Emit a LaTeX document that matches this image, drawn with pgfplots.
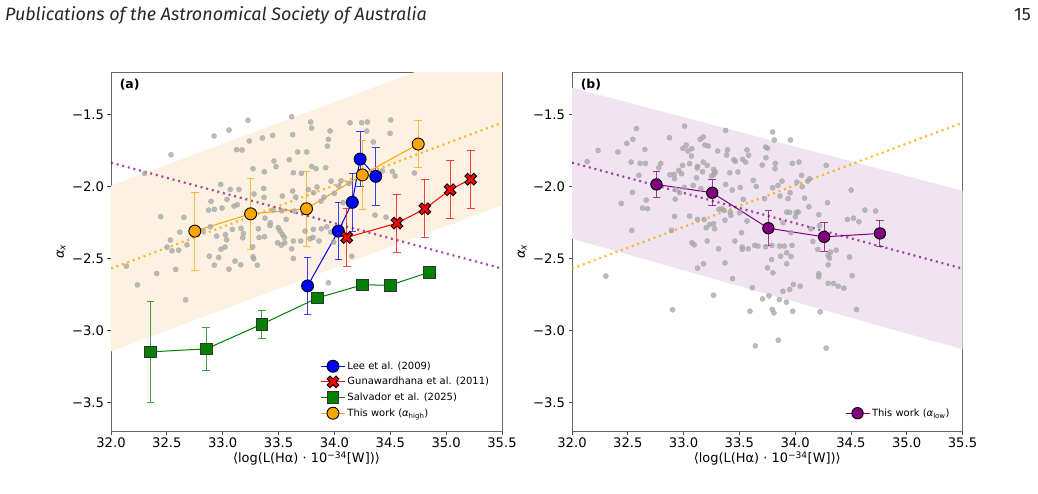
\documentclass[border=0pt]{standalone}
\usepackage{fontspec}
\setmainfont{DejaVu Sans}
\newfontfamily\hdr{Fira Sans}
\usepackage{pgfplots}
\pgfplotsset{compat=1.18}
\definecolor{mplorange}{HTML}{FFA500}
\definecolor{mplblue}{HTML}{0000FF}
\definecolor{mplred}{HTML}{FF0000}
\definecolor{mplgreen}{HTML}{008000}
\definecolor{mplpurple}{HTML}{800080}
\definecolor{bandorange}{HTML}{FDF2E1}
\definecolor{bandpurple}{HTML}{F0E4F0}
\definecolor{dotgray}{HTML}{A6A6A6}

\pgfdeclareplotmark{fatX}{%
  \pgftransformrotate{45}%
  \pgfpathmoveto{\pgfpoint{-0.32\pgfplotmarksize}{-\pgfplotmarksize}}%
  \pgfpathlineto{\pgfpoint{0.32\pgfplotmarksize}{-\pgfplotmarksize}}%
  \pgfpathlineto{\pgfpoint{0.32\pgfplotmarksize}{-0.32\pgfplotmarksize}}%
  \pgfpathlineto{\pgfpoint{\pgfplotmarksize}{-0.32\pgfplotmarksize}}%
  \pgfpathlineto{\pgfpoint{\pgfplotmarksize}{0.32\pgfplotmarksize}}%
  \pgfpathlineto{\pgfpoint{0.32\pgfplotmarksize}{0.32\pgfplotmarksize}}%
  \pgfpathlineto{\pgfpoint{0.32\pgfplotmarksize}{\pgfplotmarksize}}%
  \pgfpathlineto{\pgfpoint{-0.32\pgfplotmarksize}{\pgfplotmarksize}}%
  \pgfpathlineto{\pgfpoint{-0.32\pgfplotmarksize}{0.32\pgfplotmarksize}}%
  \pgfpathlineto{\pgfpoint{-\pgfplotmarksize}{0.32\pgfplotmarksize}}%
  \pgfpathlineto{\pgfpoint{-\pgfplotmarksize}{-0.32\pgfplotmarksize}}%
  \pgfpathlineto{\pgfpoint{-0.32\pgfplotmarksize}{-0.32\pgfplotmarksize}}%
  \pgfpathclose
  \pgfusepathqfillstroke}

\pgfplotsset{
  panel/.style={
    scale only axis, height=359bp,
    xmin=32, xmax=35.5, ymin=-3.697, ymax=-1.206,
    xtick={32,32.5,33,33.5,34,34.5,35,35.5},
    xticklabels={32.0,32.5,33.0,33.5,34.0,34.5,35.0,35.5},
    ytick={-3.5,-3,-2.5,-2,-1.5},
    yticklabels={−3.5,−3.0,−2.5,−2.0,−1.5},
    tick align=outside, tick pos=left, major tick length=3.5bp,
    axis line style={black!60, line width=0.8bp},
    tick style={black!70, line width=0.8bp},
    ticklabel style={font=\fontsize{13.2}{15}\selectfont},
    xticklabel style={yshift=0.5bp},
    label style={font=\fontsize{13}{15}\selectfont},
    xlabel={⟨log(L(Hα) · 10\textsuperscript{−34}[W])⟩},
    ylabel={{\itshape α}\textsubscript{\itshape x}},
    xlabel style={yshift=3bp},
    ylabel style={yshift=-0.5bp},
    legend cell align=left,
    legend image code/.code={\draw[mark repeat=2,mark phase=2] plot coordinates {(0bp,0bp) (12bp,0bp) (24bp,0bp)};},
    legend style={draw=none, fill=none, font=\fontsize{10}{12}\selectfont, row sep=2.6bp, inner sep=1bp},
  },
  scat/.style={only marks, mark=*, mark size=2.6bp, color=dotgray, opacity=0.75, forget plot},
  ser/.style={line width=1bp, mark size=6bp,
    error bars/y dir=both, error bars/y explicit,
    error bars/error bar style={line width=1bp, opacity=0.75},
    error bars/error mark options={rotate=90, line width=1bp, mark size=3.8bp, opacity=0.75}},
  dotl/.style={line width=2.2bp, dash pattern=on 2bp off 3.8bp, forget plot},
}

\begin{document}
\begin{tikzpicture}
\useasboundingbox (0bp,0bp) rectangle (1038bp,-494bp);
\node[anchor=base west, inner sep=0, font=\hdr\itshape\fontsize{18}{20}\selectfont, text=black!85] at (5bp,-20bp) {Publications of the Astronomical Society of Australia};
\node[anchor=base east, inner sep=0, font=\hdr\fontsize{18}{20}\selectfont, text=black!85] at (1031bp,-20bp) {15};

% ---------------- panel (a) ----------------
\begin{axis}[panel, width=391bp, at={(111bp,-431bp)}, anchor=south west,
  legend style={at={(0.975,0.028)}, anchor=south east}]
\addplot[fill=bandorange, draw=none, forget plot] coordinates {(32,-1.995) (35.5,-0.98) (35.5,-2.13) (32,-3.145)} -- cycle;
\addplot[scat] table {
33.226 -1.541
33.056 -1.609
32.922 -1.650
33.617 -1.516
33.787 -1.553
33.796 -1.595
33.626 -1.641
33.961 -1.615
34.140 -1.558
32.537 -1.780
33.355 -1.664
33.447 -1.646
33.238 -1.685
33.125 -1.745
33.173 -1.747
33.671 -1.761
33.752 -1.761
33.946 -1.673
33.937 -1.720
33.459 -1.824
33.596 -1.815
33.477 -1.863
33.271 -1.877
33.373 -1.898
33.632 -1.905
33.704 -1.909
33.796 -1.861
33.835 -1.877
33.922 -1.870
33.970 -1.963
34.059 -1.960
34.038 -1.997
34.131 -1.979
32.982 -1.986
33.068 -2.021
33.146 -2.021
33.038 -2.090
32.895 -2.104
32.925 -2.159
32.874 -2.164
32.994 -2.150
33.101 -2.136
33.131 -2.127
33.280 -2.053
33.367 -2.014
33.370 -2.076
33.626 -2.032
33.534 -2.067
33.653 -2.074
33.767 -2.021
33.814 -2.044
33.844 -2.004
33.907 -2.074
33.880 -2.102
33.999 -2.048
34.077 -2.113
33.450 -2.164
33.528 -2.169
33.641 -2.171
33.567 -2.229
33.379 -2.220
33.426 -2.252
33.423 -2.271
33.319 -2.294
33.498 -2.287
33.513 -2.310
33.534 -2.333
33.552 -2.354
33.492 -2.391
33.525 -2.407
33.632 -2.379
33.698 -2.379
33.737 -2.310
33.811 -2.298
33.883 -2.294
33.931 -2.280
33.967 -2.317
33.808 -2.354
33.781 -2.363
33.862 -2.379
33.993 -2.386
32.445 -2.210
32.653 -2.215
32.615 -2.317
32.531 -2.372
32.501 -2.421
32.546 -2.446
32.606 -2.442
32.680 -2.405
32.889 -2.280
32.827 -2.310
32.946 -2.345
33.024 -2.335
33.035 -2.370
33.086 -2.298
33.164 -2.291
33.185 -2.326
33.179 -2.356
33.021 -2.421
32.985 -2.435
32.880 -2.484
32.964 -2.493
33.110 -2.518
33.161 -2.544
32.925 -2.546
33.271 -2.488
33.277 -2.502
33.268 -2.419
33.325 -2.354
33.373 -2.349
33.617 -2.433
33.555 -2.391
32.409 -2.604
32.579 -2.576
32.137 -2.553
33.632 -2.500
34.244 -1.558
34.295 -1.553
34.504 -1.539
34.289 -1.616
34.348 -1.692
34.498 -1.632
34.543 -1.928
34.519 -1.896
34.429 -1.893
34.716 -1.907
34.363 -2.199
34.462 -2.213
34.155 -2.484
33.946 -2.669
32.236 -2.683
32.668 -2.787
33.056 -2.574
33.310 -2.546
32.300 -1.910
};
\addplot[dotl, color=mplorange, opacity=0.8] coordinates {(32,-2.57) (35.5,-1.558)};
\addplot[dotl, color=mplpurple, opacity=0.7] coordinates {(32,-1.835) (35.5,-2.57)};

\addplot[ser, color=mplblue, mark=*, mark options={fill=mplblue, draw=black, line width=0.9bp}] table[y error index=2] {
33.760 -2.690 0.20
34.035 -2.310 0.20
34.160 -2.110 0.20
34.230 -1.810 0.19
34.370 -1.930 0.20
};
\addlegendentry{Lee et al. (2009)}
\addplot[ser, color=mplred, mark=fatX, mark size=6.3bp, mark options={fill=mplred, draw=black, line width=0.9bp}] table[y error index=2] {
34.110 -2.354 0.20
34.560 -2.255 0.20
34.810 -2.155 0.20
35.035 -2.023 0.20
35.220 -1.950 0.20
};
\addlegendentry{Gunawardhana et al. (2011)}
\addplot[ser, color=mplgreen, mark=square*, mark size=5.8bp, mark options={fill=mplgreen, draw=black!80, line width=0.9bp}] table[y error index=2] {
32.355 -3.148 0.350
32.853 -3.127 0.148
33.350 -2.956 0.098
33.850 -2.773 0.030
34.250 -2.683 0.030
34.500 -2.685 0.030
34.850 -2.595 0.030
};
\addlegendentry{Salvador et al. (2025)}
\addplot[ser, color=mplorange, mark=*, mark options={fill=mplorange, draw=black, line width=0.9bp}] table[y error index=2] {
32.750 -2.310 0.270
33.250 -2.190 0.245
33.750 -2.155 0.260
34.250 -1.920 0.240
34.750 -1.706 0.165
};
\addlegendentry{This work ({\itshape α}\textsubscript{high})}
\node[anchor=north west, inner sep=0, font=\bfseries\fontsize{12.5}{15}\selectfont] at (rel axis cs:0.022,0.982) {(a)};
\end{axis}

% ---------------- panel (b) ----------------
\begin{axis}[panel, width=390.5bp, at={(572bp,-431bp)}, anchor=south west,
  legend style={at={(0.975,0.028)}, anchor=south east}]
\addplot[fill=bandpurple, draw=none, forget plot] coordinates {(32,-1.315) (35.5,-2.03) (35.5,-3.13) (32,-2.363)} -- cycle;
\addplot[scat] table {
33.009 -1.581
32.578 -1.599
32.545 -1.673
32.491 -1.701
32.234 -1.750
32.411 -1.761
32.653 -1.743
32.135 -1.828
32.530 -1.831
32.611 -1.840
32.659 -1.840
32.796 -1.840
32.778 -1.870
32.599 -1.923
32.874 -1.662
32.994 -1.736
33.024 -1.713
33.074 -1.738
33.039 -1.754
33.149 -1.673
33.176 -1.657
33.191 -1.713
33.221 -1.720
33.377 -1.611
33.305 -1.754
33.394 -1.747
33.385 -1.782
33.568 -1.747
33.529 -1.812
33.556 -1.831
33.583 -1.784
33.463 -1.826
33.451 -1.815
33.735 -1.727
33.753 -1.736
33.738 -1.801
33.705 -1.852
33.822 -1.840
33.819 -1.877
33.975 -1.840
34.034 -1.831
33.957 -1.678
33.798 -1.622
33.813 -1.678
33.071 -1.789
33.054 -1.842
32.991 -1.854
32.958 -1.889
32.916 -1.916
32.877 -1.919
32.982 -1.912
33.125 -1.861
33.122 -1.872
33.176 -1.831
33.170 -1.898
33.212 -1.854
33.269 -1.882
33.272 -1.916
33.251 -1.928
33.116 -1.940
33.155 -2.016
33.086 -1.993
33.284 -1.900
33.415 -1.905
33.487 -1.900
33.508 -2.007
33.377 -1.986
33.436 -2.025
33.535 -2.090
33.625 -1.958
33.652 -2.000
33.798 -2.009
33.846 -1.993
33.882 -1.963
34.016 -1.970
34.058 -1.923
33.954 -2.044
33.936 -2.085
33.864 -2.067
33.726 -2.085
32.919 -1.946
32.925 -2.088
32.964 -2.044
32.928 -2.021
33.006 -2.007
32.542 -2.041
32.665 -2.095
32.632 -2.150
32.677 -2.155
32.441 -2.118
32.536 -2.305
32.892 -2.305
32.919 -2.208
33.054 -2.206
33.125 -2.229
33.185 -2.229
33.203 -2.287
33.233 -2.264
33.269 -2.259
33.278 -2.294
33.317 -2.159
33.344 -2.155
33.362 -2.166
33.418 -2.178
33.424 -2.201
33.371 -2.234
33.502 -2.183
33.568 -2.240
33.520 -2.321
33.460 -2.379
33.526 -2.421
33.526 -2.437
33.580 -2.433
33.637 -2.409
33.667 -2.414
33.735 -2.419
33.792 -2.409
33.861 -2.414
33.903 -2.414
33.972 -2.409
33.870 -2.484
33.924 -2.460
33.963 -2.486
33.789 -2.507
33.753 -2.565
33.801 -2.599
33.924 -2.537
34.002 -2.210
33.924 -2.178
33.951 -2.180
34.010 -2.180
34.028 -2.178
33.891 -2.252
33.963 -2.321
33.074 -2.391
33.095 -2.405
33.212 -2.379
33.314 -2.433
33.371 -2.530
33.179 -2.537
33.125 -2.567
33.439 -2.639
33.616 -2.703
32.303 -2.622
33.984 -2.680
33.951 -2.715
34.278 -1.854
34.129 -1.946
34.114 -1.963
34.063 -2.002
34.084 -2.081
34.123 -2.141
34.290 -2.113
34.502 -2.025
34.212 -2.196
34.218 -2.271
34.141 -2.294
34.159 -2.382
34.203 -2.437
34.296 -2.479
34.308 -2.497
34.317 -2.456
34.368 -2.442
34.487 -2.490
34.296 -2.544
34.212 -2.606
34.212 -2.627
34.296 -2.673
34.344 -2.673
34.386 -2.692
34.437 -2.706
34.511 -2.620
34.469 -2.229
34.523 -2.220
34.571 -2.245
34.625 -2.164
34.721 -2.171
34.045 -2.692
34.224 -2.870
34.550 -2.854
34.278 -3.122
32.901 -2.856
33.269 -2.755
33.708 -2.780
33.765 -2.759
33.891 -2.727
33.858 -2.785
33.921 -2.803
33.978 -2.866
33.810 -2.877
33.795 -2.854
33.595 -2.866
33.643 -3.106
33.849 -3.067
};
\addplot[dotl, color=mplorange, opacity=0.8] coordinates {(32,-2.57) (35.5,-1.558)};
\addplot[dotl, color=mplpurple, opacity=0.7] coordinates {(32,-1.835) (35.5,-2.57)};
\addplot[ser, color=mplpurple, mark=*, mark size=5.7bp, mark options={fill=mplpurple, draw=black, line width=0.9bp}] table[y error index=2] {
32.757 -1.986 0.090
33.257 -2.044 0.090
33.760 -2.290 0.120
34.260 -2.350 0.100
34.760 -2.326 0.090
};
\addlegendentry{This work ({\itshape α}\textsubscript{low})}
\node[anchor=north west, inner sep=0, font=\bfseries\fontsize{12.5}{15}\selectfont] at (rel axis cs:0.022,0.982) {(b)};
\end{axis}
\end{tikzpicture}
\end{document}
